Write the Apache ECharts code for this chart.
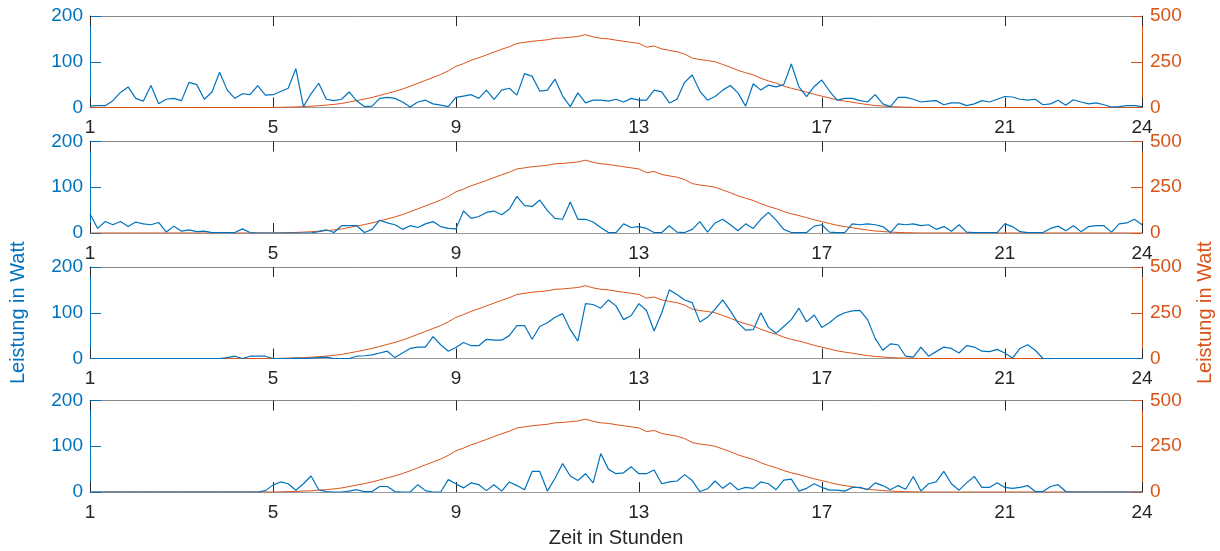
<!DOCTYPE html>
<html>
<head>
<meta charset="utf-8">
<script src="https://cdn.jsdelivr.net/npm/echarts@6/dist/echarts.min.js"></script>
<style>
  html, body { margin: 0; padding: 0; background: #ffffff; }
  #chart { width: 1220px; height: 551px; }
</style>
</head>
<body>
<div id="chart"></div>
<script>
// Tick labels and axis ranges
const hourTicks = [1, 5, 9, 13, 17, 21, 24];
const startHour = 1;
const samplesPerHour = 6;           // one reading every 10 minutes

// Consumer load, four days (W), one reading every 10 minutes from 1:00 to 24:00
const load1 = [
  3, 4, 4, 15, 33, 45, 20, 14, 48, 8,
  18, 20, 15, 55, 50, 18, 34, 77, 38, 20,
  30, 28, 48, 27, 28, 35, 42, 85, 2, 30,
  53, 18, 15, 18, 34, 14, 2, 3, 20, 22,
  20, 12, 1, 12, 16, 8, 5, 2, 22, 25,
  28, 20, 38, 18, 38, 42, 27, 74, 68, 36,
  38, 62, 25, 2, 32, 10, 16, 16, 14, 18,
  12, 20, 16, 16, 38, 34, 10, 18, 55, 71,
  36, 16, 24, 38, 48, 32, 3, 52, 38, 49,
  45, 50, 95, 45, 24, 46, 60, 36, 16, 20,
  20, 15, 12, 28, 8, 2, 22, 22, 18, 12,
  14, 15, 6, 10, 10, 4, 8, 15, 12, 18,
  24, 23, 18, 16, 18, 6, 8, 16, 5, 17,
  12, 8, 10, 6, 1, 2, 4, 4, 2
];
const load2 = [
  42, 10, 25, 18, 25, 14, 24, 20, 18, 23,
  2, 15, 4, 7, 3, 4, 1, 1, 1, 1,
  9, 1, 0, 0, 0, 0, 0, 0, 0, 0,
  3, 7, 1, 16, 16, 16, 1, 8, 28, 22,
  18, 8, 16, 12, 20, 25, 14, 10, 9, 48,
  32, 36, 45, 48, 40, 52, 80, 60, 58, 72,
  49, 32, 30, 68, 30, 30, 24, 12, 1, 1,
  20, 12, 14, 10, 1, 1, 16, 2, 1, 8,
  25, 2, 22, 30, 18, 5, 20, 10, 30, 45,
  28, 8, 1, 1, 1, 15, 18, 2, 1, 1,
  20, 18, 20, 18, 14, 1, 20, 18, 20, 16,
  18, 8, 14, 4, 18, 2, 1, 1, 1, 1,
  20, 14, 3, 1, 1, 1, 10, 15, 5, 16,
  3, 14, 16, 16, 2, 20, 22, 30, 18
];
const load3 = [
  0, 0, 0, 0, 0, 0, 0, 0, 0, 0,
  0, 0, 0, 0, 0, 0, 0, 0, 2, 5,
  0, 5, 5, 5, 0, 0, 0, 1, 0, 1,
  2, 3, 0, 0, 0, 5, 6, 8, 12, 16,
  2, 12, 22, 25, 25, 48, 30, 16, 24, 35,
  28, 28, 42, 40, 40, 50, 72, 72, 42, 70,
  78, 90, 98, 63, 38, 120, 118, 110, 128, 115,
  85, 94, 120, 105, 60, 100, 150, 140, 128, 122,
  80, 90, 108, 128, 104, 78, 62, 63, 100, 68,
  55, 70, 85, 110, 80, 95, 68, 78, 92, 100,
  104, 105, 85, 44, 18, 32, 30, 5, 3, 25,
  5, 15, 25, 22, 12, 28, 25, 16, 15, 20,
  12, 1, 22, 30, 18, 0, 0, 0, 0, 0,
  0, 0, 0, 0, 0, 0, 0, 0, 0
];
const load4 = [
  0, 0, 0, 0, 0, 0, 0, 0, 0, 0,
  0, 0, 0, 0, 0, 0, 0, 0, 0, 0,
  0, 0, 0, 3, 15, 22, 18, 4, 18, 35,
  5, 1, 0, 0, 2, 5, 1, 1, 12, 12,
  1, 0, 0, 16, 3, 0, 0, 27, 18, 9,
  20, 16, 3, 16, 2, 22, 14, 5, 45, 45,
  2, 30, 62, 35, 25, 40, 20, 84, 50, 40,
  42, 55, 40, 40, 48, 18, 22, 24, 38, 25,
  1, 7, 24, 8, 20, 5, 10, 8, 22, 18,
  5, 26, 28, 2, 8, 18, 10, 4, 4, 2,
  10, 10, 5, 20, 14, 5, 14, 6, 34, 2,
  18, 22, 45, 18, 4, 20, 34, 10, 10, 20,
  10, 8, 10, 14, 1, 1, 12, 16, 1, 0,
  0, 0, 0, 0, 0, 0, 0, 0, 0
];

// PV generation (W), same day profile on every panel
const pv = [
  0, 0, 0, 0, 0, 0, 0, 0, 0, 0,
  0, 0, 0, 0, 0, 0, 0, 0, 0, 0,
  0, 0, 0, 0, 0, 1, 2, 3, 5, 7,
  10, 13, 17, 22, 30, 38, 46, 55, 66, 77,
  88, 101, 116, 132, 148, 164, 180, 200, 225, 240,
  258, 272, 287, 303, 318, 332, 350, 356, 362, 366,
  370, 378, 380, 384, 388, 398, 386, 378, 375, 368,
  362, 356, 350, 330, 336, 320, 312, 305, 292, 270,
  262, 257, 250, 235, 220, 203, 190, 178, 160, 145,
  133, 117, 105, 95, 84, 72, 62, 52, 42, 35,
  29, 22, 16, 11, 8, 5, 3, 2, 1, 0,
  0, 0, 0, 0, 0, 0, 0, 0, 0, 0,
  0, 0, 0, 0, 0, 0, 0, 0, 0, 0,
  0, 0, 0, 0, 0, 0, 0, 0, 0
];

const loads = [load1, load2, load3, load4];

const BLUE = '#0072BD';
const ORANGE = '#D95319';
const DARK = '#262626';
const FONT = '"Liberation Sans", Arial, Helvetica, sans-serif';

const panelTops = [16, 141.5, 267, 400.5];
const panelHeight = 91.5;

const withTime = arr => arr.map((v, i) => [startHour + i / samplesPerHour, v]);

const grid = [], xAxis = [], yAxis = [], series = [];

panelTops.forEach((top, k) => {
  grid.push({
    left: 90, right: 78, top: top, height: panelHeight,
    containLabel: false, outerBoundsMode: 'none'
  });

  const isLast = k === panelTops.length - 1;
  // bottom time axis with labels
  xAxis.push({
    gridIndex: k, type: 'value', min: 1, max: 24, position: 'bottom',
    axisLine: { show: true, onZero: false, lineStyle: { color: '#9a9a9a', width: 1 } },
    axisTick: { show: true, inside: true, length: 10, customValues: hourTicks, lineStyle: { color: DARK, width: 1 } },
    axisLabel: { customValues: hourTicks, color: DARK, fontSize: 19, margin: 11, fontFamily: FONT },
    splitLine: { show: false },
    name: isLast ? 'Zeit in Stunden' : '',
    nameLocation: 'middle', nameGap: 36,
    nameTextStyle: { color: DARK, fontSize: 20, fontFamily: FONT }
  });
  // top frame edge with inward ticks
  xAxis.push({
    gridIndex: k, type: 'value', min: 1, max: 24, position: 'top',
    axisLine: { show: true, onZero: false, lineStyle: { color: '#8a8a8a', width: 1 } },
    axisTick: { show: true, inside: true, length: 10, customValues: hourTicks, lineStyle: { color: DARK, width: 1 } },
    axisLabel: { show: false },
    splitLine: { show: false }
  });

  const named = k === 2;
  yAxis.push({
    gridIndex: k, type: 'value', min: 0, max: 200, interval: 100, position: 'left',
    axisLine: { show: true, lineStyle: { color: BLUE, width: 1 } },
    axisTick: { show: true, inside: true, length: 11, lineStyle: { color: BLUE, width: 1 } },
    axisLabel: { color: BLUE, fontSize: 19, margin: 7, fontFamily: FONT },
    splitLine: { show: false },
    name: named ? 'Leistung in Watt' : '',
    nameLocation: 'middle', nameGap: 62, nameRotate: 90,
    nameTextStyle: { color: BLUE, fontSize: 20, fontFamily: FONT }
  });
  yAxis.push({
    gridIndex: k, type: 'value', min: 0, max: 500, interval: 250, position: 'right',
    axisLine: { show: true, lineStyle: { color: ORANGE, width: 1 } },
    axisTick: { show: true, inside: true, length: 11, lineStyle: { color: ORANGE, width: 1 } },
    axisLabel: { color: ORANGE, fontSize: 19, margin: 8, fontFamily: FONT },
    splitLine: { show: false },
    name: named ? 'Leistung in Watt' : '',
    nameLocation: 'middle', nameGap: 53, nameRotate: 90,
    nameTextStyle: { color: ORANGE, fontSize: 20, fontFamily: FONT }
  });

  series.push({
    type: 'line', xAxisIndex: 2 * k, yAxisIndex: 2 * k + 1,
    data: withTime(pv), showSymbol: false, symbol: 'none',
    lineStyle: { color: ORANGE, width: 1 }, z: 2, silent: true
  });
  series.push({
    type: 'line', xAxisIndex: 2 * k, yAxisIndex: 2 * k,
    data: withTime(loads[k]), showSymbol: false, symbol: 'none',
    lineStyle: { color: BLUE, width: 1.2 }, z: 3, silent: true
  });
});

const chart = echarts.init(document.getElementById('chart'), null, { renderer: 'canvas' });
chart.setOption({
  animation: false,
  backgroundColor: '#ffffff',
  textStyle: { fontFamily: FONT },
  grid, xAxis, yAxis, series
});
</script>
</body>
</html>
